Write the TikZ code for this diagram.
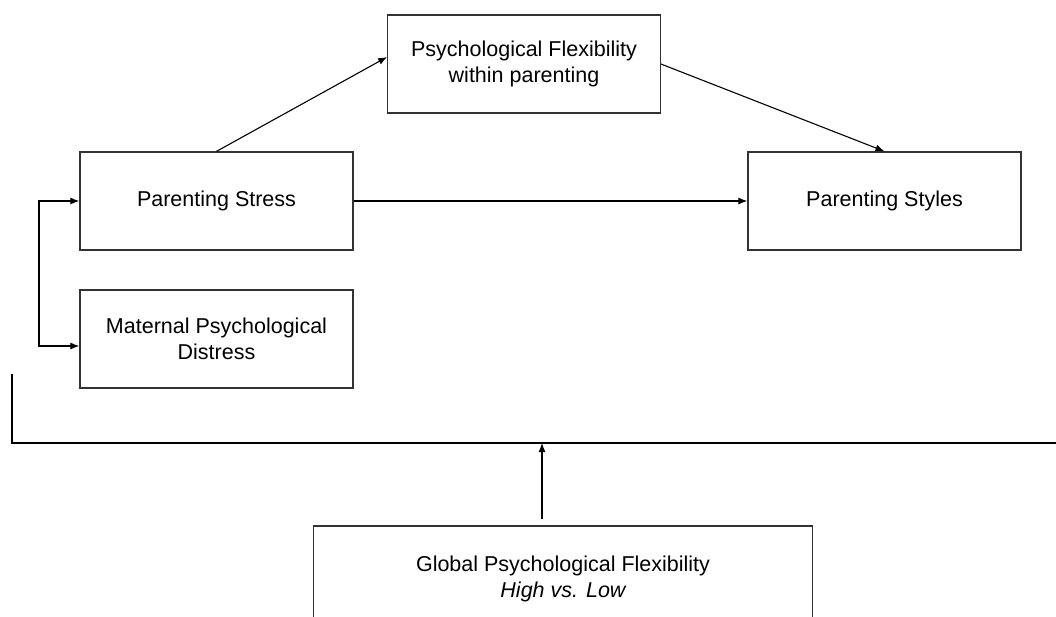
\documentclass[tikz,border=0pt]{standalone}
\usepackage{fontspec}
\setmainfont{Liberation Sans}
\usetikzlibrary{arrows.meta,calc}
\begin{document}
\begin{tikzpicture}[x=1pt,y=-1pt,
  box/.style={draw=black!80, line width=1.3pt, fill=white, align=center,
    inner sep=0pt, font=\fontsize{21.5}{26}\selectfont},
  arr/.style={line width=1.1pt, -{Latex[length=9pt,width=7pt]}},
  conn/.style={line width=1.1pt}]
\useasboundingbox (0,0) rectangle (1056,616);
\begin{scope}
\clip (0,0) rectangle (1056,616);
\node[box, minimum width=272.5pt, minimum height=98pt] (flex) at (524,64)
  {Psychological Flexibility\\within parenting};
\node[box, minimum width=273pt, minimum height=98pt] (stress) at (216.5,201)
  {Parenting Stress};
\node[box, minimum width=273pt, minimum height=98pt] (styles) at (884.5,201)
  {Parenting Styles};
\node[box, minimum width=273pt, minimum height=98pt] (distress) at (216.5,339)
  {Maternal Psychological\\Distress};
\node[box, minimum width=499.5pt, minimum height=106pt] (global) at (563,579)
  {Global Psychological Flexibility\\\itshape High vs. Low};

\draw[arr] (stress.north) -- ($(flex.west)+(0,-7)$);
\draw[arr] (flex.east) -- (styles.north);
\draw[arr] (stress.east) -- (styles.west);

\coordinate (lb) at (39,201);
\draw[conn, {Latex[length=9pt,width=7pt]}-{Latex[length=9pt,width=7pt]}]
  (stress.west) -- (lb) |- ($(distress.west)+(0,7)$);

\coordinate (ml) at (12,374);
\coordinate (mr) at (1056,443);
\coordinate (mod) at (542,443);
\draw[conn] (ml) |- (mr);
\draw[arr] ($(global.north)+(-21,-6)$) -- (mod);
\end{scope}
\end{tikzpicture}
\end{document}
